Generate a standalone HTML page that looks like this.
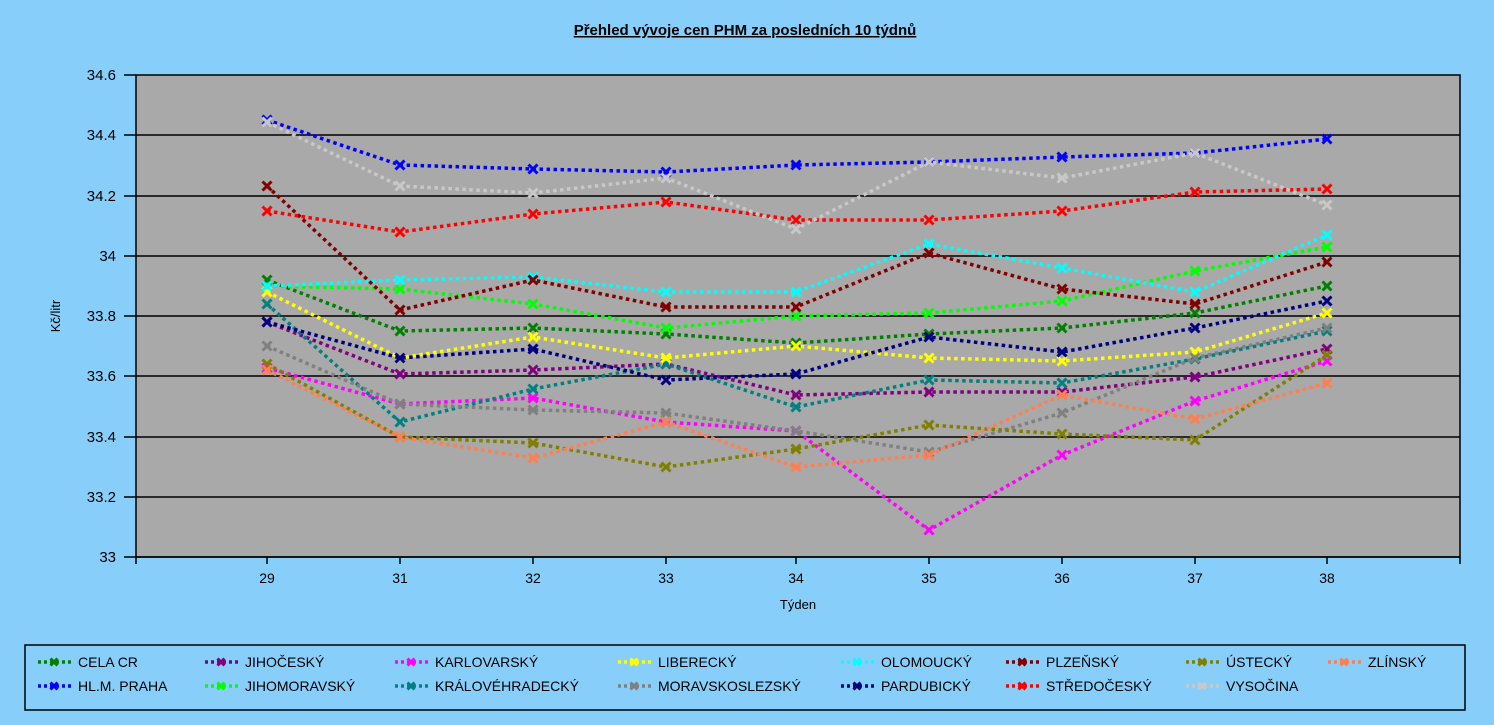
<!DOCTYPE html><html><head><meta charset="utf-8"><style>body{margin:0;background:#87cefa;}svg{display:block}text{font-family:"Liberation Sans",sans-serif;fill:#000}</style></head><body>
<svg width="1494" height="725" xmlns="http://www.w3.org/2000/svg">
<rect width="1494" height="725" fill="#87cefa"/>
<text x="745" y="35" font-size="15" font-weight="bold" text-anchor="middle" text-decoration="underline">Přehled vývoje cen PHM za posledních 10 týdnů</text>
<rect x="136" y="75" width="1324" height="482" fill="#a9a9a9" stroke="#000" stroke-width="1.5"/>
<g stroke="#000" stroke-width="1.5">
<line x1="124" y1="135" x2="1460" y2="135"/><line x1="124" y1="196" x2="1460" y2="196"/><line x1="124" y1="256" x2="1460" y2="256"/><line x1="124" y1="316" x2="1460" y2="316"/><line x1="124" y1="376" x2="1460" y2="376"/><line x1="124" y1="437" x2="1460" y2="437"/><line x1="124" y1="497" x2="1460" y2="497"/><line x1="124" y1="557" x2="1460" y2="557"/><line x1="124" y1="75" x2="136" y2="75"/>
<line x1="267" y1="557" x2="267" y2="564"/><line x1="400" y1="557" x2="400" y2="564"/><line x1="533" y1="557" x2="533" y2="564"/><line x1="666" y1="557" x2="666" y2="564"/><line x1="796" y1="557" x2="796" y2="564"/><line x1="929" y1="557" x2="929" y2="564"/><line x1="1062" y1="557" x2="1062" y2="564"/><line x1="1195" y1="557" x2="1195" y2="564"/><line x1="1327" y1="557" x2="1327" y2="564"/><line x1="1460" y1="557" x2="1460" y2="564"/><line x1="136" y1="557" x2="136" y2="564"/>
</g>
<g font-size="15" text-anchor="end">
<text x="116" y="80">34.6</text><text x="116" y="140">34.4</text><text x="116" y="201">34.2</text><text x="116" y="261">34</text><text x="116" y="321">33.8</text><text x="116" y="381">33.6</text><text x="116" y="442">33.4</text><text x="116" y="502">33.2</text><text x="116" y="562">33</text>
</g>
<g font-size="14" text-anchor="middle">
<text x="267" y="583">29</text><text x="400" y="583">31</text><text x="533" y="583">32</text><text x="666" y="583">33</text><text x="796" y="583">34</text><text x="929" y="583">35</text><text x="1062" y="583">36</text><text x="1195" y="583">37</text><text x="1327" y="583">38</text>
</g>
<text x="798" y="609" font-size="13" text-anchor="middle">Týden</text>
<text transform="translate(60,316) rotate(-90)" font-size="13" text-anchor="middle">Kč/litr</text>
<g id="series" fill="none" stroke-width="3.5" stroke-dasharray="3.5,3.5"></g>
<rect x="25" y="645" width="1440" height="65" fill="none" stroke="#000" stroke-width="1.5"/>
<g id="legend" font-size="14"></g>
</svg>
<script>
var X=[267,400,533,666,796,929,1062,1195,1327];
var S=[
["CELA CR","#008000",[280,331,328,334,343,334,328,313,286],78,662],
["HL.M. PRAHA","#0000ff",[120,165,169,172,165,162,157,153,139],78,686],
["JIHOČESKÝ","#800080",[322,374,370,364,395,392,392,377,349],245,662],
["JIHOMORAVSKÝ","#00ff00",[286,289,304,328,316,313,301,271,247],245,686],
["KARLOVARSKÝ","#ff00ff",[368,404,398,422,431,530,455,401,361],435,662],
["KRÁLOVÉHRADECKÝ","#008080",[304,422,389,364,407,380,383,359,331],435,686],
["LIBERECKÝ","#ffff00",[292,358,337,358,346,358,361,352,313],658,662],
["MORAVSKOSLEZSKÝ","#808080",[346,404,410,413,431,452,413,358,328],658,686],
["OLOMOUCKÝ","#00ffff",[286,280,277,292,292,244,268,292,235],881,662],
["PARDUBICKÝ","#000080",[322,358,349,380,374,337,352,328,301],881,686],
["PLZEŇSKÝ","#800000",[186,310,280,307,307,253,289,304,262],1046,662],
["STŘEDOČESKÝ","#ff0000",[211,232,214,202,220,220,211,192,189],1046,686],
["ÚSTECKÝ","#808000",[364,437,443,467,449,425,434,440,355],1226,662],
["VYSOČINA","#c8c8c8",[122,186,193,178,229,162,178,153,205],1226,686],
["ZLÍNSKÝ","#ff7f50",[370,437,458,422,467,455,395,419,383],1368,662]];
var ns="http://www.w3.org/2000/svg",g=document.getElementById("series"),L=document.getElementById("legend");
function el(t,a,p){var e=document.createElementNS(ns,t);for(var k in a)e.setAttribute(k,a[k]);p.appendChild(e);return e;}
function mk(x,y,c,p,s){el("path",{d:"M"+(x-s)+" "+(y-s)+"L"+(x+s)+" "+(y+s)+"M"+(x+s)+" "+(y-s)+"L"+(x-s)+" "+(y+s),stroke:c,"stroke-width":3,"stroke-dasharray":"none",fill:"none"},p);}
S.forEach(function(s){
 el("polyline",{points:X.map(function(x,i){return x+","+s[2][i]}).join(" "),stroke:s[1]},g);
 X.forEach(function(x,i){mk(x,s[2][i],s[1],g,4.5);});
 var m=s[3]-40;
 el("line",{x1:m,y1:s[4],x2:m+33,y2:s[4],stroke:s[1],"stroke-width":3.5,"stroke-dasharray":"3,3"},L);
 mk(m+16,s[4],s[1],L,3.5);
 var t=el("text",{x:s[3],y:s[4]+5},L);t.textContent=s[0];
});
</script>
</body></html>
